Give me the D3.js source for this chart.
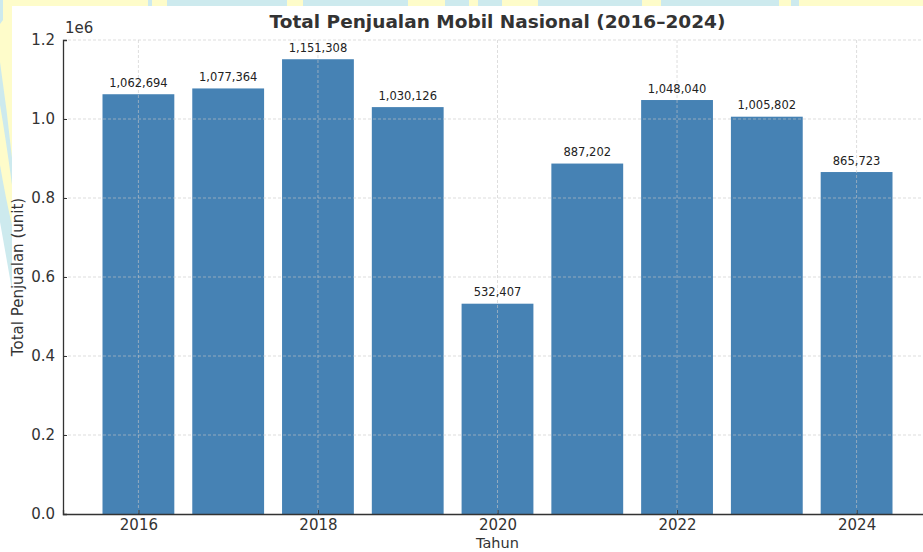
<!DOCTYPE html>
<html>
<head>
<meta charset="utf-8">
<script src="https://cdn.jsdelivr.net/npm/d3@7"></script>
<style>
  html, body { margin: 0; padding: 0; background: #fff; }
  svg { display: block; font-family: "DejaVu Sans", sans-serif; }
</style>
</head>
<body>
<div id="chart"></div>
<script>
// data
const years = [2016, 2017, 2018, 2019, 2020, 2021, 2022, 2023, 2024];
const sales = [1062694, 1077364, 1151308, 1030126, 532407, 887202, 1048040, 1005802, 865723];
const xTickYears = [2016, 2018, 2020, 2022, 2024];
const yTickValues = [0, 200000, 400000, 600000, 800000, 1000000, 1200000];

const width = 923, height = 552;
const plot = { left: 63, right: 932, top: 40, bottom: 514 };
const textColor = '#333';
const barColor = '#4682b4';

const svg = d3.select('#chart').append('svg')
  .attr('width', width)
  .attr('height', height);

// decorative page background peeking round the figure (top strip and left strip)
const deco = svg.append('g');
deco.append('rect').attr('x', 0).attr('y', 0).attr('width', width).attr('height', 6).attr('fill', '#fefcca');
[[0, 4], [148, 152], [167, 287], [303, 408], [445, 469], [478, 502], [538, 642], [661, 779], [791, 799]]
  .forEach(([a, b]) => {
    deco.append('rect').attr('x', a).attr('y', 0).attr('width', b - a).attr('height', 6).attr('fill', '#cdeaee');
  });
deco.append('path').attr('d', 'M0,0 L12,0 L12,250 L0,205 Z').attr('fill', '#fefcca');
deco.append('path').attr('d', 'M0,0 L3,0 L3,20 L0,24 Z').attr('fill', '#cdeaee');
deco.append('path').attr('d', 'M0,62 Q7,110 12,158 L12,185 Q6,140 0,105 Z').attr('fill', '#cdeaee');
deco.append('path').attr('d', 'M0,165 Q6,200 12,225 L12,290 Q5,250 0,222 Z').attr('fill', '#cdeaee');

const x = d3.scaleLinear()
  .domain([2015.16, 2024.84])
  .range([plot.left, plot.right]);

const y = d3.scaleLinear()
  .domain([0, 1200000])
  .range([plot.bottom, plot.top]);

const barW = x(2016.4) - x(2015.6);

// bars
svg.append('g')
  .selectAll('rect')
  .data(years)
  .enter()
  .append('rect')
  .attr('x', (d) => x(d) - barW / 2)
  .attr('y', (d, i) => y(sales[i]))
  .attr('width', barW)
  .attr('height', (d, i) => y(0) - y(sales[i]))
  .attr('fill', barColor);

// grid on top of the bars, like the reference
const grid = svg.append('g')
  .attr('stroke', '#c8c8c8')
  .attr('stroke-opacity', 0.75)
  .attr('stroke-width', 0.8)
  .attr('stroke-dasharray', '3,2');

grid.selectAll('line.h')
  .data(yTickValues.filter(v => v > 0))
  .enter()
  .append('line')
  .attr('x1', plot.left).attr('x2', plot.right)
  .attr('y1', d => y(d)).attr('y2', d => y(d));

grid.selectAll('line.v')
  .data(xTickYears)
  .enter()
  .append('line')
  .attr('x1', d => x(d)).attr('x2', d => x(d))
  .attr('y1', plot.top).attr('y2', plot.bottom);

// axes, ticks pointing inward
const yAxis = d3.axisLeft(y)
  .tickValues(yTickValues)
  .tickFormat(d => (d / 1e6).toFixed(1))
  .tickSize(-4)
  .tickPadding(8);

const gy = svg.append('g')
  .attr('transform', `translate(${plot.left},0)`)
  .call(yAxis);

const xAxis = d3.axisBottom(x)
  .tickValues(xTickYears)
  .tickFormat(d3.format('d'))
  .tickSize(-4)
  .tickPadding(5);

const gx = svg.append('g')
  .attr('transform', `translate(0,${plot.bottom})`)
  .call(xAxis);

[gx, gy].forEach(g => {
  g.select('.domain').attr('stroke', textColor).attr('stroke-width', 1.3);
  g.selectAll('.tick line').attr('stroke', textColor).attr('stroke-width', 1);
  g.selectAll('.tick text')
    .attr('fill', textColor)
    .style('font-family', '"DejaVu Sans", sans-serif')
    .style('font-size', '15px');
});

// value labels above the bars
svg.append('g')
  .selectAll('text')
  .data(years)
  .enter()
  .append('text')
  .attr('x', d => x(d))
  .attr('y', (d, i) => y(sales[i]) - 7.5)
  .attr('text-anchor', 'middle')
  .attr('fill', '#222')
  .style('font-size', '11.5px')
  .text((d, i) => d3.format(',')(sales[i]));

// offset text of the y axis
svg.append('text')
  .attr('x', plot.left + 2)
  .attr('y', 33)
  .attr('fill', textColor)
  .style('font-size', '15px')
  .text('1e6');

// title
svg.append('text')
  .attr('x', (plot.left + plot.right) / 2)
  .attr('y', 28)
  .attr('text-anchor', 'middle')
  .attr('fill', textColor)
  .style('font-size', '18.5px')
  .style('font-weight', 'bold')
  .text('Total Penjualan Mobil Nasional (2016\u20132024)');

// axis titles
svg.append('text')
  .attr('x', (plot.left + plot.right) / 2)
  .attr('y', 548)
  .attr('text-anchor', 'middle')
  .attr('fill', textColor)
  .style('font-size', '14.5px')
  .text('Tahun');

svg.append('text')
  .attr('transform', `translate(23,${(plot.top + plot.bottom) / 2}) rotate(-90)`)
  .attr('text-anchor', 'middle')
  .attr('fill', textColor)
  .style('font-size', '15px')
  .text('Total Penjualan (unit)');
</script>
</body>
</html>
